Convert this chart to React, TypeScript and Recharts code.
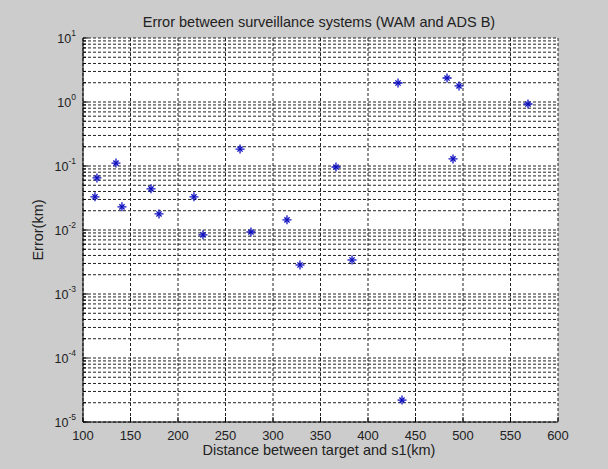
import React from 'react';
import { ScatterChart, Scatter, XAxis, YAxis, CartesianGrid, Customized } from 'recharts';

const distanceKm = [112.6, 114.7, 134.7, 141.0, 171.6, 180.0, 216.8, 226.3, 265.3, 276.8, 314.7, 328.4, 366.3, 383.2, 431.6, 483.2, 495.8, 489.5, 568.4, 435.8];
const errorKm = [0.033, 0.065, 0.111, 0.023, 0.044, 0.0178, 0.033, 0.0084, 0.184, 0.0093, 0.0144, 0.00284, 0.0964, 0.0034, 1.98, 2.37, 1.78, 0.129, 0.93, 0.000022];
const xTicks = [100, 150, 200, 250, 300, 350, 400, 450, 500, 550, 600];
const yExponents = [-5, -4, -3, -2, -1, 0, 1];
const minorMultipliers = [1, 2, 3, 4, 5, 6, 7, 8, 9];

const title = 'Error between surveillance systems (WAM and ADS B)';
const xLabel = 'Distance between target and s1(km)';
const yLabel = 'Error(km)';

const data = distanceKm.map((d, i) => ({ d, e: errorKm[i] }));

const yTicks: number[] = [];
yExponents.forEach((ex, i) => {
  if (i < yExponents.length - 1) {
    minorMultipliers.forEach((m) => yTicks.push(m * Math.pow(10, ex)));
  } else {
    yTicks.push(Math.pow(10, ex));
  }
});

const FONT = '"Liberation Sans", Arial, Helvetica, sans-serif';
const TXT = '#222';
const BLUE = '#1010c0';

const isMajor = (v: number) => {
  const l = Math.log10(v);
  return Math.abs(l - Math.round(l)) < 1e-6;
};

const BottomTick = (p: any) => {
  const { x, y, payload } = p;
  return (
    <g>
      <line x1={x} x2={x} y1={y} y2={y - 5} stroke="#000" />
      <text x={x} y={y + 18} textAnchor="middle" fontSize={13} fontFamily={FONT} fill={TXT}>
        {payload.value}
      </text>
    </g>
  );
};

const TopTick = (p: any) => {
  const { x, y } = p;
  return <line x1={x} x2={x} y1={y} y2={y + 5} stroke="#000" />;
};

const LeftTick = (p: any) => {
  const { x, y, payload } = p;
  const major = isMajor(payload.value);
  const exp = Math.round(Math.log10(payload.value));
  return (
    <g>
      <line x1={x} x2={x + (major ? 5 : 3)} y1={y} y2={y} stroke="#000" />
      {major && (
        <text x={x - 7} y={y + 5} textAnchor="end" fontSize={12.5} fontFamily={FONT} fill={TXT}>
          10
          <tspan dy={-7} fontSize={8.5}>{exp}</tspan>
        </text>
      )}
    </g>
  );
};

const RightTick = (p: any) => {
  const { x, y, payload } = p;
  const major = isMajor(payload.value);
  return <line x1={x} x2={x - (major ? 5 : 3)} y1={y} y2={y} stroke="#000" />;
};

const Star = (p: any) => {
  const { cx, cy } = p;
  if (cx == null || cy == null) return null;
  const a = 4.5;
  const b = 2.6;
  return (
    <g stroke={BLUE} strokeWidth={1.3}>
      <line x1={cx - a} x2={cx + a} y1={cy} y2={cy} />
      <line x1={cx} x2={cx} y1={cy - a} y2={cy + a} />
      <line x1={cx - b} x2={cx + b} y1={cy - b} y2={cy + b} />
      <line x1={cx - b} x2={cx + b} y1={cy + b} y2={cy - b} />
    </g>
  );
};

const Texts = () => (
  <g fontFamily={FONT} fill={TXT}>
    <text x={319} y={27} textAnchor="middle" fontSize={14.5}>{title}</text>
    <text x={319} y={455} textAnchor="middle" fontSize={14.5}>{xLabel}</text>
    <text x={43} y={230} textAnchor="middle" fontSize={14.5} transform="rotate(-90, 43, 230)">{yLabel}</text>
  </g>
);

export default function App() {
  return (
    <div style={{ position: 'absolute', left: 0, top: 0, width: 608, height: 469, background: '#cccccc' }}>
      <ScatterChart width={608} height={469} margin={{ top: 38, right: 50, bottom: 17, left: 23 }}>
        <CartesianGrid stroke="#222" strokeDasharray="3 2" fill="#ffffff" fillOpacity={1} />
        <XAxis
          dataKey="d"
          type="number"
          domain={[100, 600]}
          ticks={xTicks}
          height={30}
          tickSize={0}
          tickMargin={0}
          tickLine={false}
          axisLine={{ stroke: '#000' }}
          tick={<BottomTick />}
          interval={0}
        />
        <XAxis
          xAxisId="top"
          orientation="top"
          type="number"
          domain={[100, 600]}
          ticks={xTicks}
          height={0}
          tickSize={0}
          tickMargin={0}
          tickLine={false}
          axisLine={{ stroke: '#000' }}
          tick={<TopTick />}
          interval={0}
        />
        <YAxis
          dataKey="e"
          type="number"
          scale="log"
          domain={[0.00001, 10]}
          ticks={yTicks}
          width={60}
          tickSize={0}
          tickMargin={0}
          tickLine={false}
          axisLine={{ stroke: '#000' }}
          tick={<LeftTick />}
          interval={0}
          allowDataOverflow
        />
        <YAxis
          yAxisId="right"
          orientation="right"
          type="number"
          scale="log"
          domain={[0.00001, 10]}
          ticks={yTicks}
          width={0}
          tickSize={0}
          tickMargin={0}
          tickLine={false}
          axisLine={{ stroke: '#000' }}
          tick={<RightTick />}
          interval={0}
          allowDataOverflow
        />
        <Scatter data={data} shape={<Star />} isAnimationActive={false} />
        <Customized component={Texts} />
      </ScatterChart>
    </div>
  );
}
